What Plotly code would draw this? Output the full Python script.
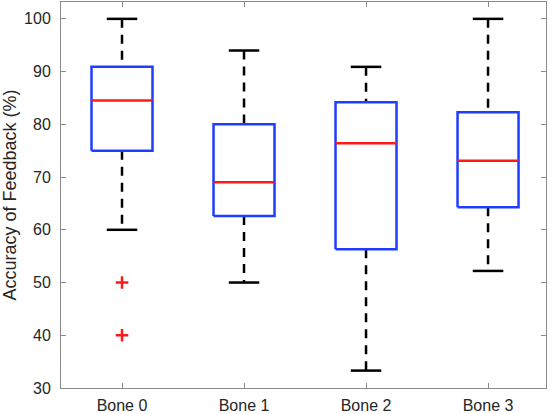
import plotly.graph_objects as go

# box statistics
categories = ["Bone 0", "Bone 1", "Bone 2", "Bone 3"]
lower_whisker = [60, 50, 33.3, 52.2]
q1 = [75, 62.6, 56.3, 64.3]
median = [84.5, 69, 76.4, 73.1]
q3 = [90.9, 80, 84.2, 82.3]
upper_whisker = [100, 94, 90.9, 100]
outlier_x = ["Bone 0", "Bone 0"]
outlier_y = [50, 40]

BOX_HALF = 0.25
CAP_HALF = 0.125
pos = {c: i + 1 for i, c in enumerate(categories)}

fig = go.Figure()

for i, c in enumerate(categories):
    x0 = pos[c]
    # whiskers (dashed black)
    fig.add_trace(go.Scatter(
        x=[x0, x0, None, x0, x0],
        y=[upper_whisker[i], q3[i], None, q1[i], lower_whisker[i]],
        mode="lines", line=dict(color="black", width=2.5, dash="9px,7px"),
        showlegend=False, hoverinfo="skip",
    ))
    # caps
    fig.add_trace(go.Scatter(
        x=[x0 - CAP_HALF, x0 + CAP_HALF, None, x0 - CAP_HALF, x0 + CAP_HALF],
        y=[upper_whisker[i], upper_whisker[i], None, lower_whisker[i], lower_whisker[i]],
        mode="lines", line=dict(color="black", width=2.5),
        showlegend=False, hoverinfo="skip",
    ))
    # box
    fig.add_trace(go.Scatter(
        x=[x0 - BOX_HALF, x0 + BOX_HALF, x0 + BOX_HALF, x0 - BOX_HALF, x0 - BOX_HALF],
        y=[q1[i], q1[i], q3[i], q3[i], q1[i]],
        mode="lines", line=dict(color="#1f3cff", width=2.5),
        showlegend=False, hoverinfo="skip",
    ))
    # median
    fig.add_trace(go.Scatter(
        x=[x0 - BOX_HALF, x0 + BOX_HALF],
        y=[median[i], median[i]],
        mode="lines", line=dict(color="#ff1a1a", width=2.5),
        showlegend=False, hoverinfo="skip",
    ))

fig.add_trace(go.Scatter(
    x=[pos[c] for c in outlier_x], y=outlier_y, mode="markers",
    marker=dict(symbol="cross-thin", size=9, line=dict(color="#ff1a1a", width=2.5)),
    showlegend=False,
))

axis_common = dict(
    showline=True, linecolor="#8a8a8a", linewidth=1, mirror="ticks",
    ticks="inside", ticklen=5, tickcolor="#8a8a8a",
    showgrid=False, zeroline=False, automargin=False,
)

fig.update_layout(
    width=550, height=414,
    margin=dict(l=61, r=4, t=2, b=26),
    plot_bgcolor="white", paper_bgcolor="white",
    font=dict(family="Liberation Sans, Arial, sans-serif", size=16, color="#262626"),
    xaxis=dict(
        range=[0.5, 4.475],
        tickvals=[pos[c] for c in categories], ticktext=categories,
        ticklabelstandoff=3,
        **axis_common,
    ),
    yaxis=dict(
        range=[30, 103.2],
        tickvals=[30, 40, 50, 60, 70, 80, 90, 100],
        title=dict(text="Accuracy of Feedback (%)", font=dict(size=18), standoff=4),
        ticklabelstandoff=6,
        **axis_common,
    ),
)

# drop the page's default body margin so the figure sits at the window's corner
fig.write_html(
    "out.html",
    config={"displayModeBar": False},
    post_script="document.body.style.margin='0';",
)
